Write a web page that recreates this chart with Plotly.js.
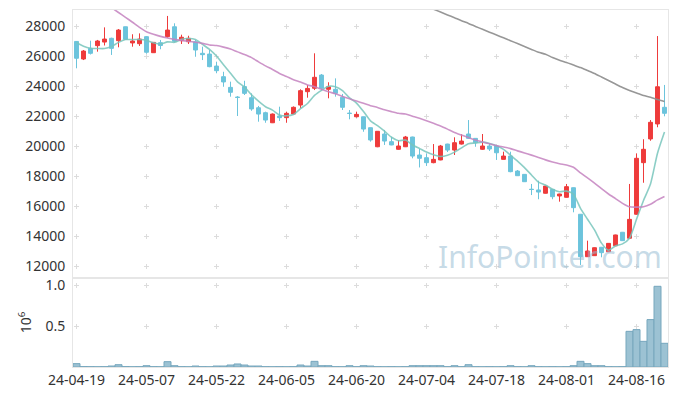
<!DOCTYPE html>
<html><head><meta charset="utf-8">
<script src="https://cdn.plot.ly/plotly-3.0.1.min.js"></script>
<style>html,body{margin:0;padding:0;background:#fff}#chart{width:677px;height:396px}</style>
</head><body><div id="chart"></div>
<script>
const dates = ['24-04-19','24-04-22','24-04-23','24-04-24','24-04-25','24-04-26','24-04-29','24-04-30','24-05-02','24-05-03',
'24-05-07','24-05-08','24-05-09','24-05-10','24-05-13','24-05-14','24-05-16','24-05-17','24-05-20','24-05-21',
'24-05-22','24-05-23','24-05-24','24-05-27','24-05-28','24-05-29','24-05-30','24-05-31','24-06-03','24-06-04',
'24-06-05','24-06-07','24-06-10','24-06-11','24-06-12','24-06-13','24-06-14','24-06-17','24-06-18','24-06-19',
'24-06-20','24-06-21','24-06-24','24-06-25','24-06-26','24-06-27','24-06-28','24-07-01','24-07-02','24-07-03',
'24-07-04','24-07-05','24-07-08','24-07-09','24-07-10','24-07-11','24-07-12','24-07-15','24-07-16','24-07-17',
'24-07-18','24-07-19','24-07-22','24-07-23','24-07-24','24-07-25','24-07-26','24-07-29','24-07-30','24-07-31',
'24-08-01','24-08-02','24-08-05','24-08-06','24-08-07','24-08-08','24-08-09','24-08-12','24-08-13','24-08-14',
'24-08-16','24-08-19','24-08-20','24-08-21','24-08-22'];

const openP = [26970,25800,26510,26690,26930,27180,27020,27950,26870,26820,
27290,26220,26890,27290,27950,27020,26950,26950,26180,26130,
25330,24620,23910,23260,23960,23220,22550,22220,21550,22000,
21890,22130,22730,23620,23850,24730,23780,23780,23250,22190,
21950,21950,21220,19950,20800,20290,19780,19950,20600,19400,
19220,18890,19070,20130,19730,20130,20800,20510,19780,20000,
20000,19110,19330,18330,18110,17120,17070,16850,17110,16670,
16580,17220,15450,12620,12690,13250,12950,13350,14250,13850,
15450,18890,20470,21470,22580];
const highP = [26990,26400,27020,27070,27910,27220,27800,27960,27450,27510,
27330,26930,27070,28670,28180,27420,27350,27070,26620,26400,
25620,24950,24290,23330,24350,23510,22670,22290,22170,22620,
22290,22640,23780,24070,26180,24800,24250,24510,23470,22400,
22290,21960,21230,21000,21070,20620,20400,20670,20620,19800,
19510,20130,20070,20150,20580,20780,21730,20520,20800,20180,
20010,19620,19620,18400,18130,17470,17690,17350,17130,16820,
17470,17240,15460,13690,13240,13270,13530,14090,14270,17470,
19510,20450,21730,27330,24070];
const lowP = [25180,25730,26100,26290,26700,26070,26580,27080,26620,26670,
26150,26200,26450,27220,26900,26800,26800,25950,25730,25250,
24850,23950,23290,22000,23400,22350,21620,21550,21530,21670,
21550,22100,22520,23220,23730,23700,23180,23290,22400,21780,
21900,20950,20290,19920,20070,20050,19750,19930,19180,18570,
18670,18850,19050,19600,19400,20100,20480,19950,19740,19670,
19070,19100,18250,18000,17600,16730,16450,16830,16450,16290,
16560,15580,12070,12600,12670,12580,12930,13330,13670,13830,
15420,17550,20350,21250,21980];
const closeP = [25850,26330,26180,27000,27130,26510,27730,27110,27000,27130,
26250,26910,26700,27730,26980,27250,27180,26400,26090,25290,
25020,24270,23580,23240,23510,22470,22130,21730,22130,21890,
22180,22580,23690,23840,24580,23850,23950,23510,22580,22170,
22110,21130,20400,20980,20330,20070,20000,20600,19330,19180,
18890,19110,20000,19730,20220,20330,20510,20220,20000,19800,
19550,19330,18290,18020,17620,17100,16930,17330,16620,16800,
17290,15890,12620,13000,13220,12890,13510,14070,13690,15110,
19180,19780,21580,23950,22180];

const ma5 = [26900,26650,26520,26500,26498,26630,26910,27096,27096,27096,
27044,26880,26798,26944,26914,27114,27168,27108,26780,26442,
25996,25414,24850,24280,23924,23414,22986,22616,22394,22070,
22012,22102,22494,22836,23374,23708,23982,23946,23694,23212,
22864,22300,21678,21358,20990,20582,20356,20396,20066,19836,
19600,19422,19302,19382,19590,19878,20158,20202,20256,20172,
20016,19780,19394,18998,18562,18072,17592,17400,17120,16956,
16994,16786,15844,15120,14404,13524,13048,13338,13476,13854,
15112,16366,17468,19520,20934];
const ma20 = [30880,30550,30220,29890,29560,29230,28900,28580,28250,27910,
27620,27450,27310,27200,27110,27040,26980,26920,26840,26738,
26696,26593,26463,26275,26094,25892,25612,25343,25100,24838,
24634,24418,24267,24073,23953,23783,23621,23477,23301,23145,
23000,22843,22684,22571,22412,22292,22185,22129,21989,21853,
21689,21515,21331,21125,20907,20731,20559,20395,20266,20147,
20019,19929,19824,19676,19540,19392,19238,19075,18939,18820,
18740,18579,18210,17874,17524,17152,16802,16494,16179,15944,
15926,15948,16113,16409,16637];
const ma120 = [null,null,null,null,null,null,null,null,null,null,
null,null,null,null,null,null,null,null,null,null,
null,null,null,null,null,null,null,null,null,null,
null,null,null,null,null,null,null,null,null,null,
null,null,null,null,null,null,null,null,null,null,
29310,29120,28930,28740,28550,28350,28170,27970,27780,27590,
27400,27210,27020,26830,26630,26440,26250,26120,25900,25720,
25570,25400,25230,25030,24830,24600,24370,24130,23900,23700,
23530,23370,23250,23100,22970];

const volume = [41000,5000,4000,3000,4000,12000,28000,5000,3000,4000,
16000,4000,3000,65000,16000,4000,3000,12000,4000,3000,
12000,12000,24000,37000,24000,12000,12000,4000,3000,4000,
3000,4000,24000,12000,69000,16000,16000,4000,3000,16000,
4000,16000,12000,4000,3000,4000,3000,4000,16000,16000,
16000,16000,16000,4000,16000,4000,28000,4000,3000,4000,
3000,4000,16000,4000,3000,16000,4000,3000,4000,3000,
4000,16000,69000,41000,16000,16000,4000,3000,4000,435000,
456000,313000,578000,984000,289000];

const priceTicks = [12000,14000,16000,18000,20000,22000,24000,26000,28000];
const volTicks = [0.5, 1.0];
const volTickText = ['0.5', '1.0'];
const dateTickIdx = [0,10,20,30,40,50,60,70,80];
const dateTicks = dateTickIdx.map(i => dates[i]);
const volMillions = volume.map(v => v / 1e6);

const gridCol = '#dcdcdc';
const frameCol = '#e6e6e6';
const tickFont = {family:'Noto Sans, Open Sans, sans-serif', size:14, color:'#333'};

const traces = [
  {type:'candlestick', x:dates, open:openP, high:highP, low:lowP, close:closeP,
   xaxis:'x', yaxis:'y',
   increasing:{line:{color:'#ee3b3b', width:1}, fillcolor:'#ee3b3b'},
   decreasing:{line:{color:'#6cc4dc', width:1}, fillcolor:'#6cc4dc'},
   hoverinfo:'skip'},
  {type:'scatter', mode:'lines', x:dates, y:ma5, xaxis:'x', yaxis:'y',
   line:{color:'rgba(120,198,188,0.85)', width:1.6, shape:'spline', smoothing:0.6}, hoverinfo:'skip'},
  {type:'scatter', mode:'lines', x:dates, y:ma20, xaxis:'x', yaxis:'y',
   line:{color:'rgba(196,130,192,0.85)', width:1.6, shape:'spline', smoothing:0.6}, hoverinfo:'skip'},
  {type:'scatter', mode:'lines', x:dates, y:ma120, xaxis:'x', yaxis:'y',
   line:{color:'rgba(140,140,140,0.9)', width:1.6, shape:'spline', smoothing:0.6}, hoverinfo:'skip'},
  {type:'bar', x:dates, y:volMillions, xaxis:'x2', yaxis:'y2',
   marker:{color:'#9cc2d3', line:{color:'#76a7bd', width:1}}, hoverinfo:'skip'}
];

const layout = {
  width:677, height:396,
  margin:{l:73, r:9, t:10, b:29},
  paper_bgcolor:'#ffffff', plot_bgcolor:'#ffffff',
  showlegend:false,
  font:{family:'Noto Sans, Open Sans, sans-serif', size:13, color:'#333'},
  bargap:0,
  boxgap:0.2,
  xaxis:{type:'category', categoryorder:'array', categoryarray:dates, anchor:'y',
    range:[-0.5, 84.5], tickvals:dateTicks, showticklabels:false, ticks:'',
    showgrid:true, gridcolor:gridCol, gridwidth:1, griddash:'0px,13.5px,5px,11.5px',
    showline:true, mirror:true, linecolor:frameCol, linewidth:1,
    rangeslider:{visible:false}, fixedrange:true},
  xaxis2:{type:'category', categoryorder:'array', categoryarray:dates, anchor:'y2',
    range:[-0.5, 84.5], tickvals:dateTicks, ticktext:dateTicks, ticks:'',
    showgrid:true, gridcolor:gridCol, gridwidth:1, griddash:'0px,4.75px,5px,36px,5px,100px',
    showline:true, mirror:true, linecolor:frameCol, linewidth:1,
    tickfont:tickFont, fixedrange:true},
  yaxis:{domain:[0.25, 1], range:[11217, 29067], tickvals:priceTicks,
    ticktext:priceTicks.map(String), ticks:'', ticklabelstandoff:4,
    showgrid:true, gridcolor:gridCol, gridwidth:1, griddash:'0px,1px,5px,64px',
    zeroline:false, showline:true, mirror:true, linecolor:frameCol, linewidth:1,
    tickfont:tickFont, fixedrange:true},
  yaxis2:{domain:[0, 0.25], range:[0, 1.0884], tickvals:volTicks, ticktext:volTickText,
    ticks:'', ticklabelstandoff:4,
    title:{text:'10<sup>6</sup>', font:{family:'Noto Sans, sans-serif', size:14, color:'#333'}, standoff:10},
    showgrid:true, gridcolor:gridCol, gridwidth:1, griddash:'0px,1px,5px,64px',
    zeroline:false, showline:true, mirror:true, linecolor:frameCol, linewidth:1,
    tickfont:tickFont, fixedrange:true},
  annotations:[{text:'InfoPointer.com', xref:'paper', yref:'paper', x:0.802, y:0.31,
    xanchor:'center', yanchor:'middle', showarrow:false,
    font:{family:'Noto Sans, sans-serif', size:30, color:'rgba(150,188,210,0.55)'}}]
};

Plotly.newPlot('chart', traces, layout, {staticPlot:true, displayModeBar:false});
</script>
</body></html>
